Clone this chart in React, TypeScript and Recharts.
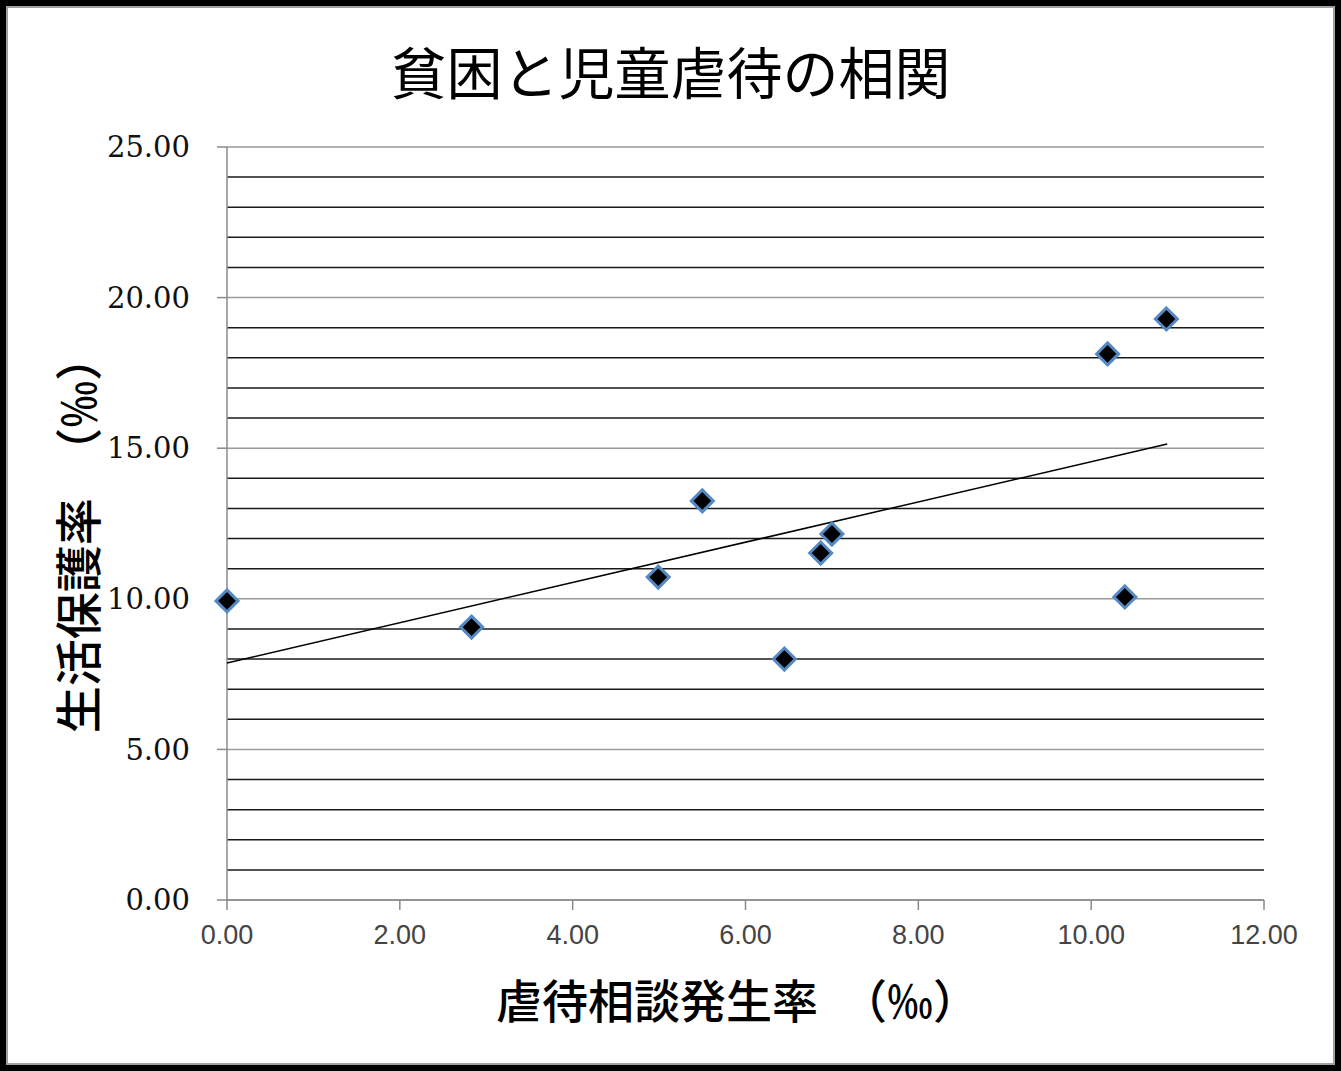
import React from 'react';
import {
  ScatterChart,
  Scatter,
  XAxis,
  YAxis,
  CartesianGrid,
  ReferenceLine,
  Label,
} from 'recharts';

// 虐待相談発生率 (‰) vs 生活保護率 (‰)
const abuseRate = [0.0, 2.83, 4.99, 5.5, 6.45, 6.87, 7.0, 10.19, 10.39, 10.87];
const welfareRate = [9.93, 9.06, 10.72, 13.25, 8.0, 11.52, 12.15, 18.13, 10.06, 19.29];

// linear trendline end points as drawn
const trendX = [0.0, 10.88];
const trendY = [7.87, 15.14];

const xTicks = [0, 2, 4, 6, 8, 10, 12];
const yTicks = [0, 5, 10, 15, 20, 25];
const minorY = [1, 2, 3, 4, 6, 7, 8, 9, 11, 12, 13, 14, 16, 17, 18, 19, 21, 22, 23, 24];

const points = abuseRate.map((x, i) => ({ x, y: welfareRate[i] }));
const trend = trendX.map((x, i) => ({ x, y: trendY[i] }));

const W = 1341;
const H = 1071;
const CJK = '"Noto Sans CJK JP", sans-serif';

const Diamond = (props: any) => {
  const { cx, cy } = props;
  if (cx == null || cy == null) return <g />;
  const r = 11;
  return (
    <polygon
      points={`${cx},${cy - r} ${cx + r},${cy} ${cx},${cy + r} ${cx - r},${cy}`}
      fill="#000"
      stroke="#5589c4"
      strokeWidth={3}
      strokeLinejoin="miter"
    />
  );
};

const NoMark = () => <g />;

const XTitle = (props: any) => {
  const vb = props.viewBox || {};
  return (
    <text
      x={vb.x + vb.width / 2 - 8}
      y={vb.y + 98}
      textAnchor="middle"
      dominantBaseline="central"
      fontFamily={CJK}
      fontSize={46}
      fontWeight={500}
      fill="#000"
    >
      虐待相談発生率　（‰）
    </text>
  );
};

const YTitle = (props: any) => {
  const vb = props.viewBox || {};
  const cx = vb.x + 75;
  const cy = vb.y + vb.height / 2 + 10;
  return (
    <text
      x={cx}
      y={cy}
      transform={`rotate(-90 ${cx} ${cy})`}
      textAnchor="middle"
      dominantBaseline="central"
      fontFamily={CJK}
      fontSize={47}
      fontWeight={500}
      fill="#000"
    >
      生活保護率　（‰）
    </text>
  );
};

export default function App() {
  return (
    <div
      style={{
        position: 'absolute',
        left: 0,
        top: 0,
        width: W,
        height: H,
        background: '#fff',
      }}
    >
      <ScatterChart
        width={W}
        height={H}
        margin={{ top: 147, right: 77, bottom: 0, left: 0 }}
      >
        <CartesianGrid vertical={false} stroke="#9a9a9a" strokeWidth={1.5} />
        {minorY.map((v) => (
          <ReferenceLine key={v} y={v} stroke="#1a1a1a" strokeWidth={1.5} />
        ))}
        <XAxis
          type="number"
          dataKey="x"
          domain={[0, 12]}
          ticks={xTicks}
          interval={0}
          height={171}
          tickSize={10}
          tickMargin={15}
          stroke="#8a8a8a"
          strokeWidth={1.5}
          tickFormatter={(v: number) => v.toFixed(2)}
          tick={{ fill: '#444', fontSize: 27, fontFamily: '"Liberation Sans", sans-serif' }}
        >
          <Label content={<XTitle />} />
        </XAxis>
        <YAxis
          type="number"
          dataKey="y"
          domain={[0, 25]}
          ticks={yTicks}
          interval={0}
          width={227}
          tickSize={10}
          tickMargin={27}
          stroke="#8a8a8a"
          strokeWidth={1.5}
          tickFormatter={(v: number) => v.toFixed(2)}
          tick={{ fill: '#111', fontSize: 29, fontFamily: '"DejaVu Serif", serif' }}
        >
          <Label content={<YTitle />} />
        </YAxis>
        <Scatter
          data={trend}
          line={{ stroke: '#000', strokeWidth: 1.5 }}
          shape={NoMark}
          isAnimationActive={false}
        />
        <Scatter data={points} shape={Diamond} isAnimationActive={false} />
      </ScatterChart>
      <div
        style={{
          position: 'absolute',
          left: 0,
          right: 0,
          top: 70,
          transform: 'translateY(-50%)',
          textAlign: 'center',
          fontFamily: CJK,
          fontSize: 56,
          lineHeight: 1,
          color: '#000',
        }}
      >
        貧困と児童虐待の相関
      </div>
      <div
        style={{
          position: 'absolute',
          inset: 0,
          border: '6px solid #000',
          boxSizing: 'border-box',
          pointerEvents: 'none',
        }}
      >
        <div
          style={{
            position: 'absolute',
            inset: 0,
            border: '2px solid #a0a0a0',
          }}
        />
      </div>
    </div>
  );
}
